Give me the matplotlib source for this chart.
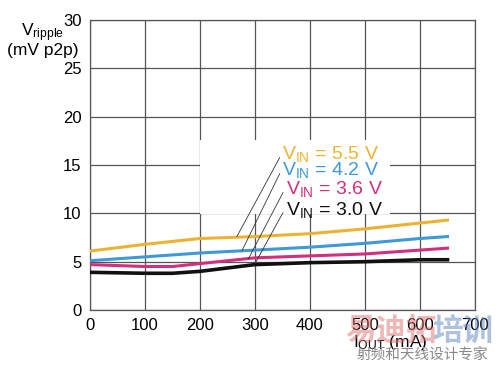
import matplotlib
matplotlib.use('Agg')
import matplotlib.pyplot as plt
from matplotlib.patches import Rectangle

plt.rcParams['font.family'] = ['Liberation Sans', 'DejaVu Sans']

# output current (mA)
i_out = [0, 100, 200, 300, 400, 500, 600, 650]
# ripple (mV p2p) for each input voltage
v55 = [6.1, 6.8, 7.4, 7.6, 7.9, 8.4, 9.0, 9.3]
v42 = [5.1, 5.5, 5.9, 6.2, 6.5, 6.9, 7.4, 7.6]
i_out36 = [0, 100, 150, 200, 300, 400, 500, 600, 650]
v36 = [4.7, 4.5, 4.5, 4.8, 5.4, 5.6, 5.8, 6.2, 6.4]
i_out30 = [0, 100, 150, 200, 300, 400, 500, 600, 650]
v30 = [3.9, 3.8, 3.8, 4.0, 4.7, 4.9, 5.0, 5.2, 5.2]

labels = ['$\\mathregular{V_{IN}}$ = 5.5 V', '$\\mathregular{V_{IN}}$ = 4.2 V',
          '$\\mathregular{V_{IN}}$ = 3.6 V', '$\\mathregular{V_{IN}}$ = 3.0 V']
colors = ['#EDB232', '#3D9AD6', '#D42E7E', '#111111']
# where each label's leader line touches its curve
leader_pts = [(267, 7.6), (276, 6.1), (288, 5.3), (300, 4.8)]
text_pts = [(350, 16.1), (350, 14.5), (356, 12.5), (356, 10.4)]


def plot_data():
    fig = plt.figure(figsize=(5.0, 3.66), dpi=100)
    ax = fig.add_axes([0.18, 0.153, 0.77, 0.792])

    ax.set_xlim(0, 700)
    ax.set_ylim(0, 30)
    ax.set_xticks(range(0, 701, 100))
    ax.set_yticks(range(0, 31, 5))
    ax.grid(True, color='#555555', linewidth=0.9)
    ax.set_axisbelow(True)
    for s in ax.spines.values():
        s.set_color('#555555')
        s.set_linewidth(0.9)
    ax.tick_params(length=0, labelsize=12, pad=6)

    # white area behind the labels (hides grid there)
    ax.add_patch(Rectangle((200, 9.9), 345, 7.7, facecolor='white',
                           edgecolor='none', zorder=1.5))

    ax.plot(i_out, v55, color=colors[0], lw=2.2, zorder=3)
    ax.plot(i_out, v42, color=colors[1], lw=2.2, zorder=3)
    ax.plot(i_out36, v36, color=colors[2], lw=2.2, zorder=3)
    ax.plot(i_out30, v30, color=colors[3], lw=2.6, zorder=3)

    for lab, c, lp, tp in zip(labels, colors, leader_pts, text_pts):
        ax.annotate(lab, xy=lp, xytext=tp, color=c, fontsize=14,
                    ha='left', va='center', zorder=4,
                    arrowprops=dict(arrowstyle='-', color='#333333', lw=0.6,
                                    shrinkA=0, shrinkB=0,
                                    relpos=(0, 0.6)))

    fig.text(0.085, 0.91, '$\\mathregular{V_{ripple}}$', fontsize=12.5,
             ha='center', va='center')
    fig.text(0.085, 0.862, '(mV p2p)', fontsize=12.5, ha='center', va='center')
    fig.text(0.78, 0.063, '$\\mathregular{I_{OUT}}$ (mA)', fontsize=12.5,
             ha='center', va='center')

    # watermark
    wm = ['Noto Sans CJK SC', 'DejaVu Sans']
    fig.text(0.69, 0.095, '易迪拓', family=wm, fontsize=22, color='#E07070',
             alpha=0.5, ha='left', va='center', fontweight='bold')
    fig.text(0.865, 0.095, '培训', family=wm, fontsize=22, color='#5F86C0',
             alpha=0.5, ha='left', va='center', fontweight='bold')
    fig.text(0.845, 0.028, '射频和天线设计专家', family=wm, fontsize=10.5,
             color='#888888', ha='center', va='center')

    fig.savefig('out.png', dpi=100)


if __name__ == '__main__':
    plot_data()
